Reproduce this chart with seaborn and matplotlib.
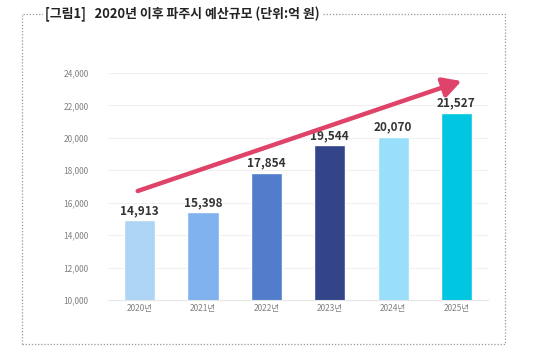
import matplotlib
matplotlib.use("Agg")
import matplotlib.pyplot as plt
import seaborn as sns
import pandas as pd
from matplotlib.patches import Rectangle

# 데이터
years = ["2020년", "2021년", "2022년", "2023년", "2024년", "2025년"]
budget = [14913, 15398, 17854, 19544, 20070, 21527]
colors = ["#AED4F5", "#7FB2EE", "#517DCB", "#334489", "#99DEFA", "#00C6E2"]
yticks = [10000, 12000, 14000, 16000, 18000, 20000, 22000, 24000]

sns.set_style("white")
plt.rcParams['font.family'] = ['Noto Sans CJK KR', 'DejaVu Sans']

df = pd.DataFrame({"연도": years, "예산": budget})

fig = plt.figure(figsize=(5.37, 3.61), dpi=100)
ax = fig.add_axes([0.201, 0.169, 0.708, 0.629])

sns.barplot(data=df, x="연도", y="예산", hue="연도", palette=colors,
            width=0.49, legend=False, ax=ax, saturation=1)

ax.set_ylim(10000, 24000)
ax.set_xlim(-0.5, 5.5)
ax.set_yticks(yticks)
ax.set_yticklabels([f"{v:,}" for v in yticks], fontsize=6, color="#808080")
ax.tick_params(axis="x", labelsize=6, colors="#808080", length=0, pad=3)
ax.tick_params(axis="y", length=0, pad=14)
ax.set_xlabel("")
ax.set_ylabel("")
ax.grid(axis="y", color="#F0F0F0", linewidth=0.8)
ax.set_axisbelow(True)
for s in ["top", "right", "left"]:
    ax.spines[s].set_visible(False)
ax.spines["bottom"].set_color("#E6E6E6")

# 값 라벨
for i, v in enumerate(budget):
    ax.text(i, v + 200, f"{v:,}", ha="center", va="bottom",
            fontsize=8.5, fontweight="semibold", color="#333333")

# 증가 추세 화살표
ax.annotate("", xy=(5.08, 23500), xytext=(-0.03, 16720),
            arrowprops=dict(arrowstyle="-|>,head_length=1.1,head_width=0.6",
                            color="#E0436A", lw=3.2, shrinkA=0, shrinkB=0))

# 점선 테두리
fig.patches.append(Rectangle((22 / 537, 1 - 344 / 361), 483 / 537, 330 / 361,
                             transform=fig.transFigure, fill=False,
                             edgecolor="#999999", linestyle=(0, (1, 1.5)),
                             linewidth=0.9))

fig.text(45 / 537, 1 - 14 / 361, "[그림1]   2020년 이후 파주시 예산규모 (단위:억 원)",
         fontsize=9.3, fontweight="bold", color="#222222", va="center", ha="left",
         bbox=dict(facecolor="white", edgecolor="none", pad=1.5))

plt.savefig("out.png", dpi=100)
